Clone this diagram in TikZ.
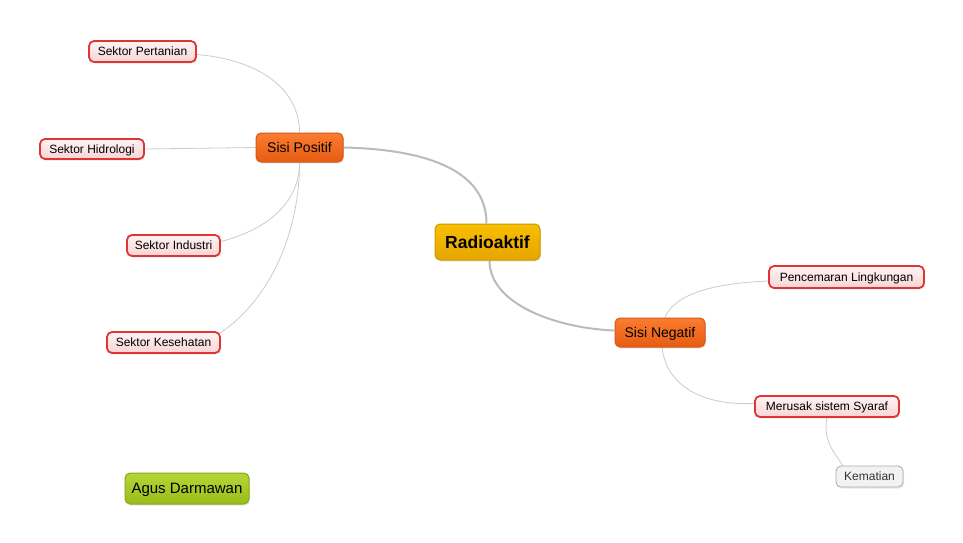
\documentclass[tikz,border=0pt]{standalone}
\usepackage{fontspec}
\setmainfont{Liberation Sans}
\usetikzlibrary{shadows,backgrounds}
\definecolor{roottop}{HTML}{F8BE00}
\definecolor{rootbot}{HTML}{E6A600}
\definecolor{rootdraw}{HTML}{C99A00}
\definecolor{sisitop}{HTML}{FB7C30}
\definecolor{sisibot}{HTML}{E65C12}
\definecolor{sisidraw}{HTML}{D4581A}
\definecolor{leaftop}{HTML}{FFF4F4}
\definecolor{leafbot}{HTML}{F8D4D4}
\definecolor{leafdraw}{HTML}{E03535}
\definecolor{kemfill}{HTML}{F2F2F2}
\definecolor{kemdraw}{HTML}{AAAAAA}
\definecolor{agustop}{HTML}{B6D436}
\definecolor{agusbot}{HTML}{9ABD1A}
\definecolor{agusdraw}{HTML}{88A820}
\definecolor{mainline}{HTML}{BBBBBB}
\definecolor{thinline}{HTML}{CCCCCC}
\begin{document}
\begin{tikzpicture}[x=1pt,y=-1pt,
  box/.style={rounded corners=5pt, inner sep=0pt, align=center, text depth=0pt,
    drop shadow={shadow xshift=1pt,shadow yshift=-1.5pt,opacity=0.18}},
  rootbox/.style={box, draw=rootdraw, line width=1pt, top color=roottop, bottom color=rootbot,
    text height=12.6pt, font=\fontsize{17.5}{20}\selectfont\bfseries},
  sisibox/.style={box, draw=sisidraw, line width=1pt, top color=sisitop, bottom color=sisibot,
    text height=10.1pt, font=\fontsize{14}{16}\selectfont},
  leafbox/.style={box, draw=leafdraw, line width=1.8pt, top color=leaftop, bottom color=leafbot,
    text height=8.6pt, font=\fontsize{12}{14}\selectfont},
  kembox/.style={box, draw=kemdraw, line width=0.8pt, fill=kemfill, text=black!80,
    text height=8.6pt, font=\fontsize{12}{14}\selectfont},
  agusbox/.style={box, draw=agusdraw, line width=1pt, top color=agustop, bottom color=agusbot,
    text height=10.8pt, font=\fontsize{15}{17}\selectfont},
  mainlink/.style={draw=mainline, line width=2pt},
  thinlink/.style={draw=thinline, line width=0.8pt}
]
\useasboundingbox (0,0) rectangle (963,542);

\node[rootbox, minimum width=105pt, minimum height=36pt] (ra) at (487.5,242) {Radioaktif};
\node[sisibox, minimum width=87pt, minimum height=29pt] (sp) at (299.5,147.5) {Sisi Positif};
\node[sisibox, minimum width=90pt, minimum height=29pt] (sn) at (660,332.5) {Sisi Negatif};
\node[leafbox, minimum width=107pt, minimum height=21pt] (pert) at (142.5,51.5) {Sektor Pertanian};
\node[leafbox, minimum width=104pt, minimum height=20pt] (hid) at (92,149) {Sektor Hidrologi};
\node[leafbox, minimum width=93pt, minimum height=21pt] (ind) at (173.5,245.5) {Sektor Industri};
\node[leafbox, minimum width=113pt, minimum height=21pt] (kes) at (163.5,342.5) {Sektor Kesehatan};
\node[leafbox, minimum width=155pt, minimum height=22pt] (pen) at (846.5,277) {Pencemaran Lingkungan};
\node[leafbox, minimum width=144pt, minimum height=21pt] (mer) at (827,406.5) {Merusak sistem Syaraf};
\node[kembox, minimum width=67pt, minimum height=21pt] (kem) at (869.5,476.5) {Kematian};
\node[agusbox, minimum width=124pt, minimum height=31pt] (agus) at (187,488.5) {Agus Darmawan};

\begin{pgfonlayer}{background}
\fill[white] (0,0) rectangle (963,542);
% main links
\draw[mainlink] (sp.east) .. controls +(90,2) and +(0,-50) .. ([xshift=-1pt]ra.north);
\draw[mainlink] ([xshift=2pt]ra.south) .. controls +(0,45) and +(-55,-2) .. ([yshift=2pt]sn.west);
% Sisi Positif children
\draw[thinlink] ([yshift=-3pt]pert.east) .. controls +(60,5) and +(0,-45) .. (sp.north);
\draw[thinlink] (hid.east) -- (sp.west);
\draw[thinlink] ([yshift=4pt]ind.east) .. controls +(50,-13) and +(0,38) .. (sp.south);
\draw[thinlink] ([xshift=-1pt,yshift=-2pt]kes.north east) .. controls +(50,-33) and +(0,70) .. (sp.south);
% Sisi Negatif children
\draw[thinlink] ([xshift=5pt]sn.north) .. controls +(10,-25) and +(-50,2) .. ([yshift=-4pt]pen.west);
\draw[thinlink] ([xshift=2pt]sn.south) .. controls +(5,40) and +(-50,2) .. ([yshift=3pt]mer.west);
\draw[thinlink] (mer.south) .. controls +(-5,25) and +(-5,-10) .. ([xshift=7pt]kem.north west);
\end{pgfonlayer}
\end{tikzpicture}
\end{document}
